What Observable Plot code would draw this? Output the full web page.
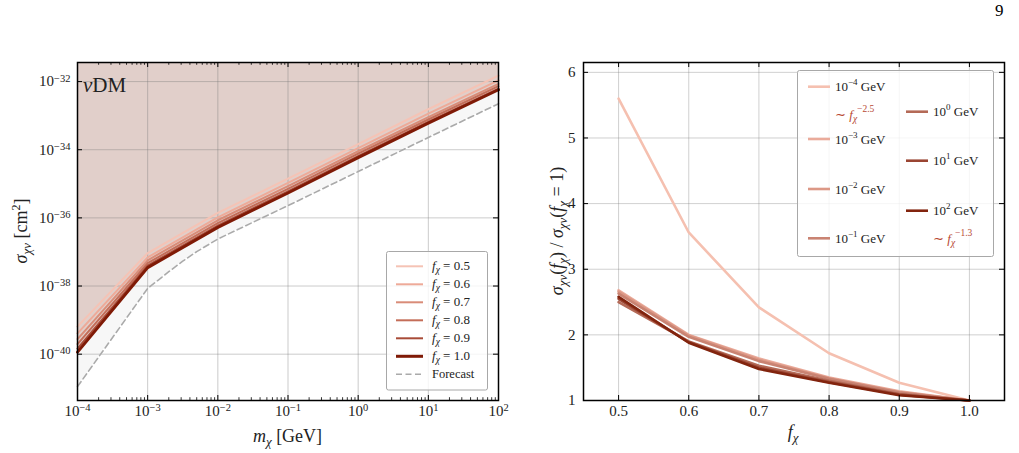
<!DOCTYPE html>
<html><head><meta charset="utf-8">
<script src="https://cdn.jsdelivr.net/npm/d3@7"></script>
<script src="https://cdn.jsdelivr.net/npm/@observablehq/plot@0.6"></script>
<style>
body{margin:0;background:#fff;width:1019px;height:453px;overflow:hidden;position:relative;font-family:"Liberation Serif",serif;}
#left,#right{position:absolute;top:0;}
#left{left:0}
#right{left:510px}
#pg{position:absolute;left:995px;top:1px;font-size:17px;font-family:"Liberation Serif",serif}
svg, svg text, svg tspan{font-family:"Liberation Serif",serif !important;}
</style></head><body>
<div id="left"></div><div id="right"></div><div id="pg">9</div>
<script>
// ---------- data: left panel (sigma vs mass) ----------
const masses = [1e-4, 1e-3, 1e-2, 1e-1, 1e0, 1e1, 1e2];
const fValues = [0.5, 0.6, 0.7, 0.8, 0.9, 1.0];
const sigma_f05 = [6.43e-40, 9.29e-38, 1.40e-36, 1.41e-35, 1.47e-34, 1.54e-33, 1.49e-32];
const sigma_f06 = [4.08e-40, 6.93e-38, 1.04e-36, 1.06e-35, 1.12e-34, 1.14e-33, 1.08e-32];
const sigma_f07 = [2.78e-40, 5.69e-38, 8.51e-37, 8.59e-36, 9.02e-35, 9.04e-34, 8.51e-33];
const sigma_f08 = [1.98e-40, 4.68e-38, 7.03e-37, 7.14e-36, 7.66e-35, 7.71e-34, 7.31e-33];
const sigma_f09 = [1.46e-40, 3.95e-38, 5.93e-37, 6.01e-36, 6.47e-35, 6.56e-34, 6.21e-33];
const sigma_f10 = [1.15e-40, 3.47e-38, 5.25e-37, 5.37e-36, 5.89e-35, 6.03e-34, 5.75e-33];
const forecastMass  = [1e-4, 1e-3, 2e-3, 3.16e-3, 5e-3, 1e-2, 1e-1, 1e0, 1e1, 1e2];
const forecastSigma = [1.12e-41, 8.51e-39, 2.63e-38, 5.37e-38, 1.02e-37, 2.40e-37, 2.29e-36, 2.29e-35, 2.29e-34, 2.24e-33];
const leftColors = ["#f5c3b5", "#eeaa98", "#d98c78", "#c46d58", "#a84b37", "#7f1a06"];
const xTicksLeft = [1e-4, 1e-3, 1e-2, 1e-1, 1e0, 1e1, 1e2];
const yTicksLeft = [1e-40, 1e-38, 1e-36, 1e-34, 1e-32];
const yDomainLeft = [4.37e-42, 3.63e-32];

// ---------- data: right panel (ratio vs f) ----------
const fAxis = [0.5, 0.6, 0.7, 0.8, 0.9, 1.0];
const massLabels = ["−4", "−3", "−2", "−1", "0", "1", "2"];
const ratio_m4 = [5.60, 3.56, 2.42, 1.72, 1.27, 1.00];
const ratio_m3 = [2.68, 2.00, 1.64, 1.35, 1.14, 1.00];
const ratio_m2 = [2.66, 1.99, 1.62, 1.34, 1.13, 1.00];
const ratio_m1 = [2.63, 1.97, 1.60, 1.33, 1.12, 1.00];
const ratio_p0 = [2.50, 1.90, 1.53, 1.30, 1.10, 1.00];
const ratio_p1 = [2.55, 1.89, 1.50, 1.28, 1.09, 1.00];
const ratio_p2 = [2.58, 1.88, 1.48, 1.27, 1.08, 1.00];
const rightColors = ["#f5c0b0", "#eaab9b", "#dc9886", "#c98372", "#b46a57", "#9a4532", "#82240e"];
const xTicksRight = [0.5, 0.6, 0.7, 0.8, 0.9, 1.0];
const yTicksRight = [1, 2, 3, 4, 5, 6];

// ---------- build tables ----------
const sigmaSeries = [sigma_f05, sigma_f06, sigma_f07, sigma_f08, sigma_f09, sigma_f10];
const sigmaRows = fValues.flatMap((f, i) => masses.map((m, j) => ({f, m, s: sigmaSeries[i][j]})));
const f1Rows = masses.map((m, j) => ({m, s: sigma_f10[j]}));
const forecastRows = forecastMass.map((m, j) => ({m, s: forecastSigma[j]}));
const ratioSeries = [ratio_m4, ratio_m3, ratio_m2, ratio_m1, ratio_p0, ratio_p1, ratio_p2];
const ratioRows = massLabels.flatMap((k, i) => fAxis.map((f, j) => ({k, f, r: ratioSeries[i][j]})));

const minorLeft = [];
for (let e = -4; e < 2; e++) for (let k = 2; k <= 9; k++) minorLeft.push(k * Math.pow(10, e));

const FONT = "Liberation Serif, serif";
const FH = 338; // frame height

function fmtPow(d) { const e = Math.round(Math.log10(d)); return "10^" + (e < 0 ? "−" + (-e) : String(e)); }
function superscript(svg) {
  d3.select(svg).selectAll("text").each(function () {
    const t = this.textContent;
    const m = t.match(/^(\d+)\^(.+)$/);
    if (!m) return;
    const s = d3.select(this); s.text(null);
    s.append("tspan").text(m[1]);
    s.append("tspan").attr("dy", "-0.45em").attr("font-size", "0.7em").text(m[2]);
  });
}

// ---------- left plot ----------
const left = Plot.plot({
  width: 510, height: 453,
  marginLeft: 77, marginRight: 12, marginTop: 62, marginBottom: 53,
  style: {fontFamily: FONT, fontSize: "15px", background: "transparent", color: "#222", overflow: "visible"},
  x: {type: "log", domain: [1e-4, 1e2]},
  y: {type: "log", domain: yDomainLeft},
  color: {type: "ordinal", domain: fValues, range: leftColors},
  marks: [
    Plot.areaY(forecastRows, {x: "m", y1: "s", y2: () => yDomainLeft[1], fill: "#f7f7f7"}),
    Plot.areaY(f1Rows, {x: "m", y1: "s", y2: () => yDomainLeft[1], fill: "#e1cfca"}),
    Plot.gridX(xTicksLeft, {stroke: "#777", strokeOpacity: 0.38, strokeWidth: 1}),
    Plot.gridY(yTicksLeft, {stroke: "#777", strokeOpacity: 0.38, strokeWidth: 1}),
    Plot.line(forecastRows, {x: "m", y: "s", stroke: "#aaaaaa", strokeWidth: 1.6, strokeDasharray: "6,3.5"}),
    Plot.line(sigmaRows.filter(d => d.f < 1), {x: "m", y: "s", z: "f", stroke: "f", strokeWidth: 2}),
    Plot.line(sigmaRows.filter(d => d.f === 1), {x: "m", y: "s", z: "f", stroke: "f", strokeWidth: 3}),
    Plot.tickX(xTicksLeft, {x: d => d, insetTop: FH - 5, stroke: "black"}),
    Plot.tickX(xTicksLeft, {x: d => d, insetBottom: FH - 5, stroke: "black"}),
    Plot.tickX(minorLeft, {x: d => d, insetTop: FH - 2.8, stroke: "black", strokeWidth: 0.8}),
    Plot.tickX(minorLeft, {x: d => d, insetBottom: FH - 2.8, stroke: "black", strokeWidth: 0.8}),
    Plot.tickY(yTicksLeft, {y: d => d, insetRight: 421 - 5, stroke: "black"}),
    Plot.tickY(yTicksLeft, {y: d => d, insetLeft: 421 - 5, stroke: "black"}),
    Plot.axisX({ticks: xTicksLeft, tickSize: 0, tickPadding: 5, tickFormat: fmtPow, label: null, fontSize: 15}),
    Plot.axisY({ticks: yTicksLeft, tickSize: 0, tickPadding: 7, tickFormat: fmtPow, label: null, fontSize: 15}),
    Plot.frame({stroke: "black", strokeWidth: 1.5})
  ]
});
superscript(left);
document.getElementById("left").appendChild(left);

(function decorateLeft(svg) {
  const g = d3.select(svg).append("g").attr("font-family", FONT).attr("fill", "#222").attr("text-anchor", "start");
  // panel tag
  const tag = g.append("text").attr("x", 83).attr("y", 92).attr("font-size", 21);
  tag.append("tspan").attr("font-style", "italic").text("ν");
  tag.append("tspan").text("DM");
  // axis labels
  const xl = g.append("text").attr("x", 287.5).attr("y", 442).attr("text-anchor", "middle").attr("font-size", 18);
  xl.append("tspan").attr("font-style", "italic").text("m");
  xl.append("tspan").attr("font-style", "italic").attr("font-size", 13).attr("dy", 4).text("χ");
  xl.append("tspan").attr("dy", -4).text(" [GeV]");
  const yl = g.append("text").attr("transform", "translate(27,231) rotate(-90)").attr("text-anchor", "middle").attr("font-size", 18);
  yl.append("tspan").attr("font-style", "italic").text("σ");
  yl.append("tspan").attr("font-style", "italic").attr("font-size", 13).attr("dy", 4).text("χν");
  yl.append("tspan").attr("dy", -4).text(" [cm");
  yl.append("tspan").attr("font-size", 12).attr("dy", -7).text("2");
  yl.append("tspan").attr("dy", 7).text("]");
  // legend
  const L = g.append("g");
  L.append("rect").attr("x", 386.5).attr("y", 251.5).attr("width", 101).attr("height", 138.5).attr("rx", 2)
    .attr("fill", "white").attr("fill-opacity", 0.8).attr("stroke", "#a8a8a8").attr("stroke-width", 1);
  fValues.forEach((f, i) => {
    const y = 266.3 + 18 * i;
    L.append("line").attr("x1", 396).attr("x2", 423).attr("y1", y).attr("y2", y)
      .attr("stroke", leftColors[i]).attr("stroke-width", f === 1 ? 3 : 2);
    const t = L.append("text").attr("x", 432).attr("y", y + 4).attr("font-size", 13);
    t.append("tspan").attr("font-style", "italic").text("f");
    t.append("tspan").attr("font-style", "italic").attr("font-size", 9.5).attr("dy", 3).text("χ");
    t.append("tspan").attr("dy", -3).text(" = " + f.toFixed(1));
  });
  const fy = 266.3 + 18 * 6;
  L.append("line").attr("x1", 396).attr("x2", 423).attr("y1", fy).attr("y2", fy)
    .attr("stroke", "#aaaaaa").attr("stroke-width", 1.6).attr("stroke-dasharray", "6,3.5");
  L.append("text").attr("x", 432).attr("y", fy + 4).attr("font-size", 12.5).text("Forecast");
})(left);

// ---------- right plot ----------
const right = Plot.plot({
  width: 509, height: 453,
  marginLeft: 73, marginRight: 15, marginTop: 62, marginBottom: 53,
  style: {fontFamily: FONT, fontSize: "15px", background: "transparent", color: "#222", overflow: "visible"},
  x: {domain: [0.45, 1.05]},
  y: {domain: [1, 6.15]},
  color: {type: "ordinal", domain: massLabels, range: rightColors},
  marks: [
    Plot.gridX(xTicksRight, {stroke: "#777", strokeOpacity: 0.35, strokeWidth: 1}),
    Plot.gridY(yTicksRight, {stroke: "#777", strokeOpacity: 0.35, strokeWidth: 1}),
    Plot.line(ratioRows, {x: "f", y: "r", z: "k", stroke: "k", strokeWidth: 2.6}),
    Plot.tickX(xTicksRight, {x: d => d, insetTop: FH - 5, stroke: "black"}),
    Plot.tickX(xTicksRight, {x: d => d, insetBottom: FH - 5, stroke: "black"}),
    Plot.tickY(yTicksRight, {y: d => d, insetRight: 421 - 5, stroke: "black"}),
    Plot.tickY(yTicksRight, {y: d => d, insetLeft: 421 - 5, stroke: "black"}),
    Plot.axisX({ticks: xTicksRight, tickSize: 0, tickPadding: 5, tickFormat: d => d.toFixed(1), label: null, fontSize: 15}),
    Plot.axisY({ticks: yTicksRight, tickSize: 0, tickPadding: 8, tickFormat: d => String(d), label: null, fontSize: 15}),
    Plot.frame({stroke: "black", strokeWidth: 1.5})
  ]
});
document.getElementById("right").appendChild(right);

(function decorateRight(svg) {
  const g = d3.select(svg).append("g").attr("font-family", FONT).attr("fill", "#222").attr("text-anchor", "start");
  const xl = g.append("text").attr("x", 283).attr("y", 438).attr("text-anchor", "middle").attr("font-size", 18);
  xl.append("tspan").attr("font-style", "italic").text("f");
  xl.append("tspan").attr("font-style", "italic").attr("font-size", 13).attr("dy", 4).text("χ");
  const yl = g.append("text").attr("transform", "translate(53,231) rotate(-90)").attr("text-anchor", "middle").attr("font-size", 18);
  const sub = (sel, s) => { sel.append("tspan").attr("font-style", "italic").attr("font-size", 13).attr("dy", 4).text(s); };
  yl.append("tspan").attr("font-style", "italic").text("σ");
  sub(yl, "χν");
  yl.append("tspan").attr("dy", -4).text("(");
  yl.append("tspan").attr("font-style", "italic").text("f");
  sub(yl, "χ");
  yl.append("tspan").attr("dy", -4).text(") / ");
  yl.append("tspan").attr("font-style", "italic").text("σ");
  sub(yl, "χν");
  yl.append("tspan").attr("dy", -4).text("(");
  yl.append("tspan").attr("font-style", "italic").text("f");
  sub(yl, "χ");
  yl.append("tspan").attr("dy", -4).text(" = 1)");
  // legend
  const L = g.append("g");
  L.append("rect").attr("x", 287.5).attr("y", 70.5).attr("width", 196).attr("height", 186).attr("rx", 2)
    .attr("fill", "white").attr("fill-opacity", 0.8).attr("stroke", "#a8a8a8").attr("stroke-width", 1);
  const entries = [
    {i: 0, x: 298, y: 86.7}, {i: 1, x: 298, y: 139}, {i: 2, x: 298, y: 189}, {i: 3, x: 298, y: 238.3},
    {i: 4, x: 396, y: 111.7}, {i: 5, x: 396, y: 160.7}, {i: 6, x: 396, y: 210.7}
  ];
  entries.forEach(({i, x, y}) => {
    L.append("line").attr("x1", x).attr("x2", x + 22).attr("y1", y).attr("y2", y)
      .attr("stroke", rightColors[i]).attr("stroke-width", 2.6);
    const t = L.append("text").attr("x", x + 27).attr("y", y + 4.5).attr("font-size", 13);
    t.append("tspan").text("10");
    t.append("tspan").attr("font-size", 9).attr("dy", -6).text(massLabels[i]);
    t.append("tspan").attr("dy", 6).text(" GeV");
  });
  const slope = (x, y, p) => {
    const t = L.append("text").attr("x", x).attr("y", y).attr("font-size", 13).attr("fill", "#b84a34");
    t.append("tspan").text("∼ ");
    t.append("tspan").attr("font-style", "italic").text("f");
    t.append("tspan").attr("font-style", "italic").attr("font-size", 9.5).attr("dy", 3).text("χ");
    t.append("tspan").attr("font-size", 9.5).attr("dy", -10).text(p);
  };
  slope(325, 119, "−2.5");
  slope(423, 243, "−1.3");
})(right);
</script>
</body></html>
